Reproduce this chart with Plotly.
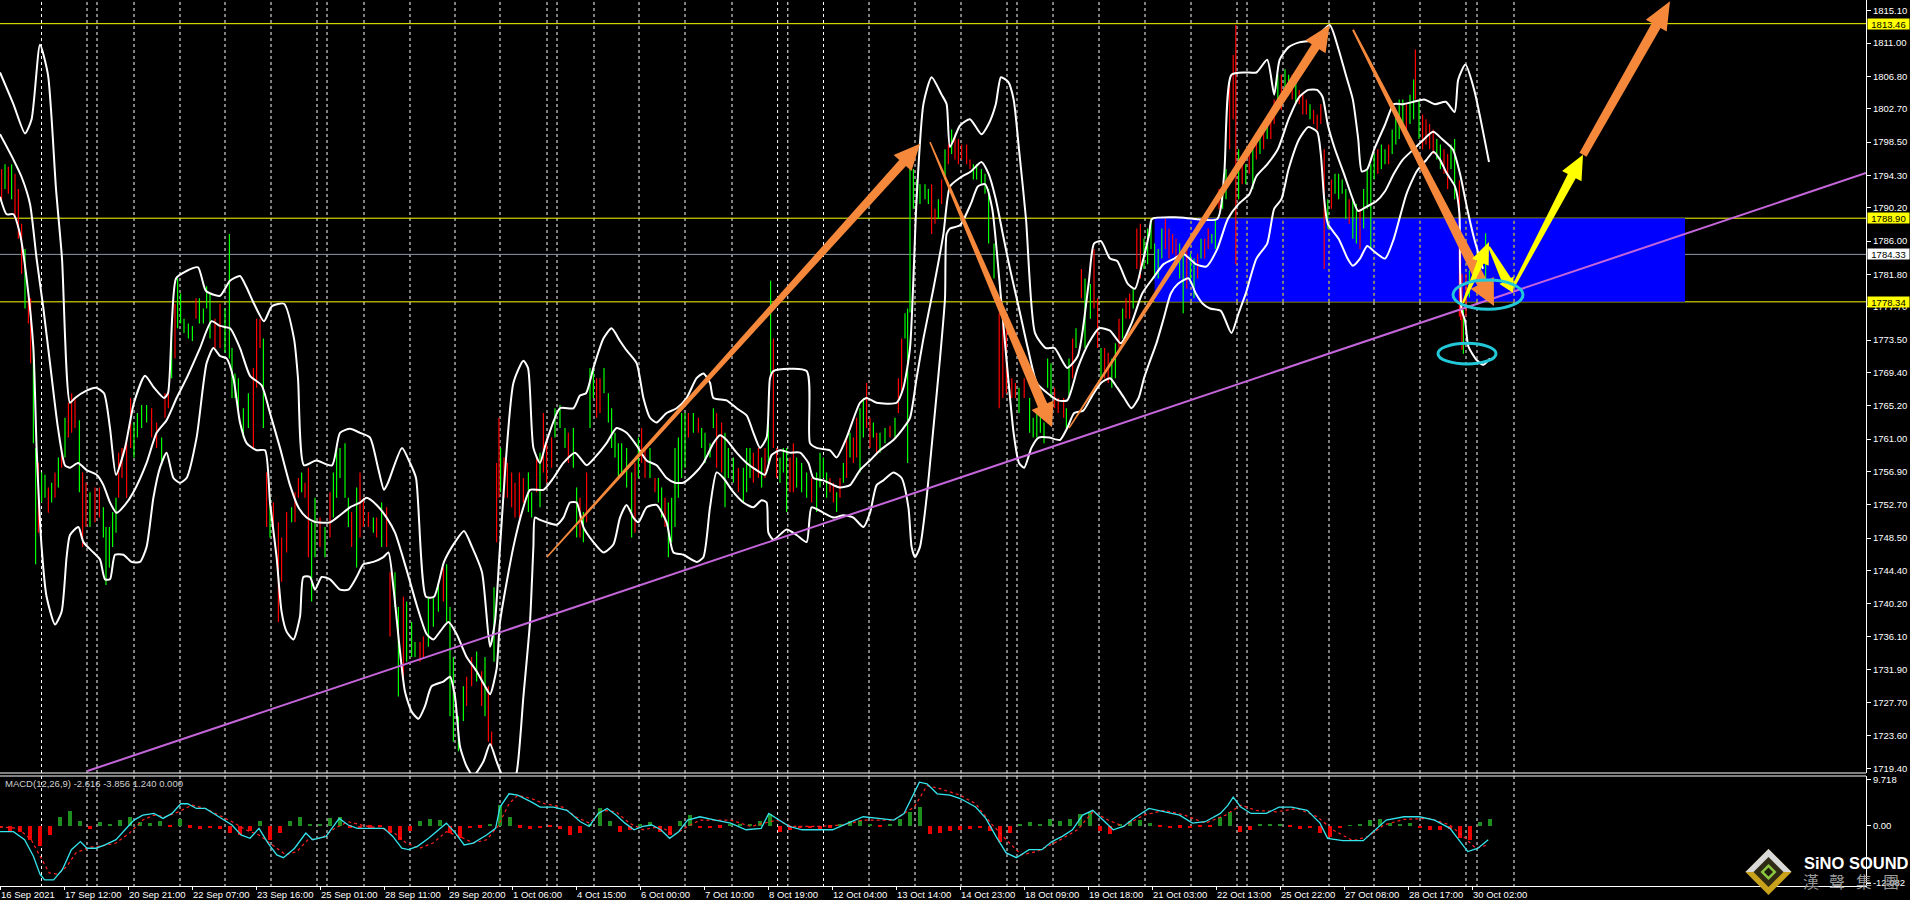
import math
import plotly.graph_objects as go

# ---------------- DATA ----------------
time_tick_bar = [0, 32, 64, 96, 128, 160, 192, 224, 256, 288, 320, 352, 384, 416,
                 448, 480, 512, 544, 576, 608, 640, 672, 704, 736]
time_tick_text = ["16 Sep 2021", "17 Sep 12:00", "20 Sep 21:00", "22 Sep 07:00", "23 Sep 16:00",
                  "25 Sep 01:00", "28 Sep 11:00", "29 Sep 20:00", "1 Oct 06:00", "4 Oct 15:00",
                  "6 Oct 00:00", "7 Oct 10:00", "8 Oct 19:00", "12 Oct 04:00", "13 Oct 14:00",
                  "14 Oct 23:00", "18 Oct 09:00", "19 Oct 18:00", "21 Oct 03:00", "22 Oct 13:00",
                  "25 Oct 22:00", "27 Oct 08:00", "28 Oct 17:00", "30 Oct 02:00"]

price_ticks = [1815.10, 1811.00, 1806.80, 1802.70, 1798.50, 1794.30, 1790.20, 1786.00,
               1781.80, 1777.70, 1773.50, 1769.40, 1765.20, 1761.00, 1756.90, 1752.70,
               1748.50, 1744.40, 1740.20, 1736.10, 1731.90, 1727.70, 1723.60, 1719.40]

macd_ticks = [9.718, 0.0, -12.082]
macd_tick_text = ["9.718", "0.00", "-12.082"]

separator_bar = [20.75, 43.5, 48.5, 67, 90, 112.5, 135.5, 158.5, 163.5, 182, 205, 227.5, 250,
                 273.5, 278.5, 297, 319.5, 342.5, 366, 388.8, 393.9, 411.75, 434.5, 457.5,
                 480.5, 503.5, 508.5, 526.5, 549.5, 572.5, 595.5, 618.5, 623.5, 641.5, 664.5,
                 687, 710, 733, 738.5, 757]

level_yellow = [1813.46, 1788.90, 1778.34]
level_gray = [1784.33]

zone_bar = [577.3, 842.5]
zone_price = [1778.34, 1788.90]

trend_bar = [43.7, 933]
trend_price = [1719.1, 1794.6]

candle_bar = [
    0.8, 2.5, 4.2, 5.8, 7.5, 9.2, 10.8, 12.5, 14.2, 15.3, 16.7, 17.8, 19.2, 20.8, 22.5, 24.2,
    25.8, 27.5, 29.2, 30.8, 32.5, 34.2, 35.8, 37.5, 39.7, 41.3, 43.0, 45.0, 47.5, 49.7, 51.7,
    53.0, 54.7, 56.3, 58.0, 59.3, 61.0, 63.3, 65.3, 67.0, 68.7, 70.8, 73.3, 75.8, 78.3, 80.8,
    82.5, 84.2, 85.8, 87.5, 88.8, 90.3, 92.0, 94.2, 96.2, 98.0, 99.7, 101.7, 103.3, 105.0,
    107.5, 110.0, 112.5, 114.7, 116.0, 117.5, 119.2, 121.7, 124.2, 126.7, 128.3, 130.0, 131.7,
    133.3, 135.0, 136.7, 139.2, 140.8, 143.3, 145.8, 147.5, 149.2, 150.8, 152.5, 154.2, 155.8,
    157.5, 160.0, 162.5, 165.0, 166.7, 168.3, 170.0, 172.5, 174.2, 175.8, 178.3, 180.0, 181.7,
    184.2, 186.7, 188.3, 190.8, 193.3, 195.0, 197.5, 199.2, 201.7, 203.3, 205.8, 207.5, 210.0,
    211.7, 214.2, 216.7, 219.2, 221.7, 223.3, 225.0, 226.7, 229.2, 231.7, 233.3, 235.8, 238.3,
    240.8, 242.5, 244.2, 245.8, 247.0, 248.3, 249.5,
    250.3, 252.0, 253.7, 255.8, 257.5, 259.7, 261.7, 264.2, 265.8, 268.3, 270.0, 271.7, 273.3,
    275.8, 277.5, 280.0, 282.5, 284.2, 286.7, 288.3, 290.0, 291.7, 293.3, 295.0, 296.7, 298.3,
    300.0, 302.0, 304.2, 305.8, 307.5, 309.2, 310.8, 313.3, 315.8, 317.5, 319.2, 320.8, 322.5,
    325.0, 327.5, 329.2, 330.8, 332.5, 334.2, 335.8, 337.5, 339.2, 340.8, 342.5, 344.2, 346.7,
    349.2, 350.8, 352.5, 355.0, 356.7, 358.3, 360.8, 362.5, 364.2, 366.7, 369.2, 371.7, 373.3,
    375.0, 376.7, 379.2, 380.8, 382.5, 384.2, 385.3, 386.7, 388.3, 390.0, 391.7, 393.3, 395.0,
    396.7, 398.3, 400.8, 403.3, 405.8, 408.3, 410.0, 411.7, 413.3, 415.0, 416.7, 418.3, 420.0,
    421.7, 423.3, 425.0, 426.7, 428.3, 430.0, 431.7, 433.3, 435.0, 436.7, 438.3, 440.0, 442.5,
    445.0, 447.5, 449.2, 450.8, 452.5, 453.8, 455.0, 456.7, 458.3, 460.0, 462.5, 464.2, 465.8,
    467.5, 469.2, 470.8, 472.5, 474.2, 475.8, 477.5, 479.2, 480.8, 483.3, 485.0, 486.7, 488.3,
    490.7, 492.5, 494.3, 497.0, 499.6, 501.4, 503.2, 505.9, 507.7, 509.5, 512.1, 514.8, 516.6,
    518.4, 520.2, 522.0, 523.8, 525.5, 527.3, 529.1, 531.8, 533.2, 534.5, 536.3, 538.0, 540.7,
    542.5, 545.2, 547.0, 548.8, 550.5, 552.3, 554.1, 555.9, 557.7, 559.5, 561.3, 563.0, 564.8,
    566.6, 568.4, 570.2, 572.0, 573.8, 575.5, 577.3, 579.1, 580.9, 582.7, 584.5, 586.3, 588.0,
    589.8, 591.6, 593.4, 595.2, 597.0, 598.8, 600.5, 602.3, 604.1, 605.9, 607.7, 609.5, 611.3,
    613.0, 614.8, 616.6, 617.9, 619.3, 621.1, 622.9, 624.6, 626.4, 628.2, 630.0, 631.8, 633.6,
    635.4, 637.1, 638.9, 640.7, 642.5, 644.3, 646.1, 647.9, 649.6, 651.4, 653.2, 655.0, 656.8,
    658.6, 660.4, 662.1, 663.9, 665.7, 667.5, 669.3, 671.1, 672.9, 674.6, 676.4, 678.2, 680.0,
    681.8, 683.6, 685.4, 687.1, 688.9, 690.7, 692.5, 694.3, 696.1, 697.9, 699.6, 701.4, 703.2,
    705.0, 706.8, 707.7, 709.5, 711.3, 713.0, 714.8, 716.6, 718.4, 720.2, 722.0, 723.8, 725.5,
    727.3, 729.7, 730.3, 731.0, 731.7, 733.0, 734.7, 742.8]
candle_high = [
    1795.1, 1795.7, 1795.4, 1795.7, 1794.5, 1792.6, 1788.2, 1785.0, 1780.0, 1778.8, 1773.1,
    1759.9, 1758.0, 1756.8, 1756.5, 1754.9, 1755.5, 1756.8, 1758.7, 1759.9, 1763.7, 1765.6,
    1766.8, 1766.2, 1763.4, 1756.8, 1755.5, 1754.3, 1754.9, 1754.9, 1752.4, 1749.9, 1749.9,
    1751.8, 1753.6, 1759.3, 1759.9, 1761.2, 1766.2, 1763.1, 1764.3, 1765.3, 1765.3, 1764.9,
    1763.1, 1761.2, 1766.8, 1766.8, 1776.2, 1778.1, 1781.3, 1779.4, 1776.2, 1775.6, 1775.3,
    1778.8, 1778.8, 1777.5, 1780.3, 1779.4, 1776.2, 1778.1, 1777.5, 1786.9, 1772.5, 1769.3,
    1768.7, 1764.9, 1766.8, 1770.0, 1776.2, 1776.2, 1773.7, 1756.8, 1753.6, 1753.0, 1750.5,
    1748.6, 1751.8, 1752.4, 1754.3, 1756.1, 1756.8, 1755.5, 1757.4, 1750.5, 1753.6, 1751.1,
    1749.9, 1754.3, 1756.8, 1759.9, 1759.9, 1760.5, 1753.6, 1751.8, 1754.9, 1756.8, 1753.6,
    1751.8, 1751.1, 1751.1, 1753.0, 1752.4, 1744.2, 1744.2, 1739.8, 1741.1, 1740.5, 1737.9,
    1735.4, 1735.4, 1736.1, 1741.1, 1741.1, 1743.0, 1744.8, 1745.2, 1739.8, 1733.5, 1726.0,
    1729.8, 1731.0, 1733.5, 1734.2, 1731.7, 1733.5, 1729.8, 1724.1, 1742.3, 1758.0, 1763.7,
    1759.9, 1758.7, 1758.0, 1756.8, 1755.5, 1756.8, 1756.1, 1756.8, 1754.3, 1758.7, 1759.3,
    1764.3, 1761.2, 1761.2, 1764.9, 1765.3, 1762.4, 1761.8, 1762.4, 1754.9, 1753.6, 1751.8,
    1756.8, 1770.0, 1770.0, 1768.7, 1768.7, 1770.0, 1766.8, 1764.9, 1761.8, 1760.5, 1760.5,
    1759.9, 1756.8, 1758.0, 1761.2, 1762.4, 1759.9, 1759.9, 1756.1, 1756.1, 1754.9, 1753.6,
    1753.0, 1753.6, 1759.9, 1761.2, 1764.3, 1764.3, 1764.3, 1764.3, 1763.7, 1762.4, 1761.8,
    1760.5, 1764.9, 1764.3, 1763.1, 1761.8, 1759.9, 1758.7, 1757.4, 1757.4, 1759.9, 1759.9,
    1759.3, 1759.9, 1758.7, 1759.9, 1763.1, 1781.0, 1773.7, 1759.9, 1758.7, 1759.9, 1759.9,
    1758.7, 1760.5, 1758.7, 1758.0, 1756.8, 1756.1, 1756.8, 1759.3, 1758.7, 1756.8, 1756.1,
    1755.5, 1754.3, 1756.1, 1758.0, 1761.2, 1761.8, 1761.2, 1763.7, 1764.9, 1766.2, 1768.1,
    1763.7, 1763.1, 1761.8, 1761.8, 1762.4, 1762.7, 1763.7, 1768.7, 1773.7, 1776.9, 1777.5,
    1795.1, 1795.1, 1793.8, 1793.2, 1793.2, 1792.6, 1793.2, 1790.1, 1791.3, 1793.8, 1797.6,
    1798.2, 1800.1, 1799.5, 1798.9, 1798.2, 1798.2, 1796.3, 1795.7, 1795.7,
    1795.1, 1794.5, 1792.6, 1785.7, 1776.9, 1775.6, 1775.0, 1768.7, 1768.1, 1767.5, 1768.7,
    1766.2, 1763.7, 1764.9, 1764.9, 1763.1, 1771.2, 1770.6, 1767.5, 1766.2, 1766.2, 1764.9,
    1771.2, 1773.7, 1775.0, 1782.5, 1781.3, 1780.6, 1785.0, 1778.8, 1772.5, 1772.5, 1771.9,
    1771.2, 1773.1, 1776.2, 1777.5, 1778.8, 1779.4, 1780.0, 1787.6, 1788.2, 1786.3, 1787.6,
    1788.8, 1785.7, 1785.0, 1787.6, 1788.8, 1787.6, 1786.9, 1786.3, 1785.7, 1785.0, 1785.0,
    1784.4, 1783.8, 1784.4, 1786.3, 1786.3, 1787.6, 1786.9, 1788.8, 1792.6, 1792.0, 1795.1,
    1805.8, 1809.5, 1813.3, 1797.6, 1795.7, 1795.7, 1797.0, 1797.6, 1798.9, 1799.5, 1800.1,
    1801.4, 1802.6, 1803.9, 1807.0, 1807.0, 1807.7, 1807.0, 1807.0, 1806.4, 1805.1, 1804.5,
    1803.9, 1803.3, 1802.6, 1802.0, 1803.3, 1797.6, 1791.3, 1793.8, 1794.5, 1794.5, 1793.8,
    1792.6, 1791.3, 1791.3, 1790.7, 1790.1, 1792.6, 1795.1, 1795.7, 1797.0, 1797.6, 1798.2,
    1797.6, 1798.2, 1800.1, 1802.0, 1803.9, 1803.9, 1803.3, 1804.5, 1806.4, 1810.2, 1803.9,
    1802.0, 1801.4, 1800.8, 1800.1, 1798.9, 1798.2, 1797.6, 1797.0, 1798.2, 1798.9, 1793.7,
    1784.9, 1781.9, 1777.3, 1781.9, 1782.3, 1787.0]
candle_low = [
    1791.3, 1792.6, 1792.0, 1791.3, 1788.8, 1786.3, 1781.9, 1777.5, 1775.6, 1770.6, 1760.5,
    1745.2, 1749.2, 1753.0, 1753.6, 1751.7, 1753.0, 1753.6, 1754.9, 1757.4, 1758.7, 1761.2,
    1761.8, 1762.4, 1754.3, 1747.4, 1749.9, 1749.9, 1750.5, 1751.1, 1748.6, 1742.6, 1744.8,
    1747.4, 1749.2, 1753.6, 1756.1, 1753.6, 1759.9, 1758.7, 1761.2, 1762.4, 1763.1, 1761.2,
    1759.9, 1757.7, 1763.7, 1764.9, 1768.7, 1771.2, 1775.0, 1775.6, 1774.4, 1773.7, 1773.4,
    1776.2, 1775.6, 1775.6, 1777.5, 1773.7, 1772.5, 1772.5, 1771.9, 1771.2, 1766.2, 1766.2,
    1764.9, 1761.2, 1762.4, 1759.9, 1767.5, 1772.5, 1762.4, 1749.9, 1748.6, 1748.6, 1737.9,
    1743.0, 1746.7, 1750.5, 1750.5, 1753.6, 1754.3, 1753.6, 1746.1, 1740.5, 1746.1, 1747.4,
    1746.1, 1748.6, 1751.1, 1753.6, 1756.1, 1753.6, 1749.9, 1747.4, 1744.8, 1748.6, 1749.9,
    1749.9, 1749.2, 1748.6, 1747.4, 1747.4, 1736.1, 1739.8, 1728.5, 1731.0, 1732.9, 1733.5,
    1733.5, 1732.9, 1733.5, 1734.8, 1737.3, 1739.2, 1740.5, 1737.9, 1726.0, 1722.8, 1721.6,
    1725.4, 1727.3, 1729.8, 1730.4, 1727.3, 1726.0, 1722.8, 1722.2, 1732.9, 1748.0, 1753.6,
    1754.3, 1753.6, 1753.6, 1752.4, 1751.1, 1751.1, 1753.0, 1751.8, 1751.1, 1754.3, 1752.4,
    1756.8, 1755.5, 1757.4, 1761.2, 1762.4, 1759.9, 1758.0, 1757.4, 1748.6, 1748.6, 1748.0,
    1750.5, 1762.4, 1766.2, 1763.7, 1764.3, 1766.8, 1763.1, 1759.9, 1758.7, 1756.1, 1756.8,
    1754.9, 1748.6, 1749.2, 1756.1, 1758.0, 1756.1, 1756.1, 1754.3, 1753.0, 1751.1, 1749.9,
    1746.1, 1748.0, 1749.9, 1753.6, 1756.1, 1757.4, 1761.2, 1761.8, 1761.8, 1759.9, 1758.0,
    1758.7, 1762.4, 1757.4, 1756.8, 1752.4, 1756.1, 1755.5, 1754.3, 1753.0, 1754.3, 1756.1,
    1755.5, 1756.1, 1754.9, 1756.1, 1758.0, 1769.3, 1759.9, 1756.1, 1755.5, 1756.8, 1751.8,
    1754.3, 1754.3, 1754.9, 1754.3, 1753.6, 1753.0, 1751.8, 1754.9, 1756.1, 1753.6, 1754.3,
    1753.0, 1751.8, 1753.6, 1755.5, 1756.1, 1758.7, 1758.0, 1758.7, 1756.8, 1761.2, 1762.4,
    1759.9, 1761.2, 1759.3, 1759.3, 1760.5, 1761.2, 1761.2, 1764.3, 1766.8, 1773.7, 1758.0,
    1777.0, 1790.1, 1790.7, 1790.7, 1791.3, 1790.7, 1786.9, 1788.2, 1788.8, 1790.7, 1793.8,
    1795.7, 1797.0, 1796.3, 1795.7, 1796.3, 1795.7, 1795.1, 1793.8, 1793.8,
    1793.2, 1792.0, 1785.7, 1781.3, 1764.9, 1766.2, 1766.8, 1766.2, 1766.2, 1764.3, 1766.2,
    1761.8, 1761.2, 1761.2, 1761.8, 1760.5, 1767.5, 1766.2, 1764.9, 1764.3, 1763.7, 1762.4,
    1766.2, 1768.7, 1772.5, 1778.8, 1772.5, 1776.2, 1777.5, 1772.5, 1768.7, 1768.7, 1768.1,
    1767.5, 1768.7, 1772.5, 1773.7, 1776.2, 1776.2, 1777.5, 1782.5, 1781.3, 1782.5, 1783.1,
    1785.0, 1781.3, 1781.3, 1783.8, 1785.0, 1783.8, 1784.4, 1783.8, 1781.3, 1776.9, 1780.0,
    1780.6, 1778.8, 1781.3, 1783.8, 1783.8, 1785.0, 1785.7, 1785.0, 1790.1, 1790.1, 1791.3,
    1797.6, 1801.4, 1783.1, 1791.3, 1793.2, 1793.2, 1794.5, 1792.6, 1796.3, 1797.0, 1797.6,
    1798.9, 1798.9, 1800.8, 1803.9, 1802.6, 1803.9, 1804.5, 1803.9, 1803.3, 1803.3, 1802.0,
    1802.0, 1801.4, 1800.8, 1800.1, 1800.8, 1782.5, 1787.6, 1790.1, 1792.0, 1791.3, 1792.0,
    1788.8, 1788.2, 1786.3, 1785.7, 1785.0, 1787.6, 1790.1, 1785.0, 1793.8, 1794.5, 1795.1,
    1795.7, 1795.7, 1797.0, 1798.2, 1798.9, 1800.1, 1800.1, 1800.8, 1801.4, 1803.9, 1798.9,
    1797.6, 1798.2, 1797.6, 1797.0, 1796.3, 1795.1, 1794.5, 1792.6, 1795.1, 1791.3, 1776.5,
    1776.0, 1772.3, 1771.8, 1776.5, 1778.9, 1780.7]
candle_dir = ("dudud" "ddudd" "uuduu" "dudud" "udddu" "ddudd" "uuuuu" "ddddu" "uuudd" "uddud"
              "uuuuu" "duuuu" "dduuu" "uuuud" "ddudu" "ddddu" "ddudd" "uudud" "uuuuu" "dudddu"
              "dudduudu" "uudduuudu" "uuuuddudu" "ddudduddd" "ddduududd" "du"
              "uuduudud" "uuddu" "uuuuuuu" "dudduduu" "duuuuuudu" "duuuudd" "uuudu" "uuddud"
              "uudduuudd" "uuudu" "uuuddu" "dududdu" "udduduu" "dudduuuu" "uuuuddudu" "duddddd"
              "uuuuuudd" "ddduduuu"
              "uuuuddduu" "dudu" "uddud" "duudu" "dduddu" "uuuuu" "ddddu" "uduu" "duddu" "uduu"
              "dddudu" "dudu" "dudduduu" "dudddu" "ddddud" "uuuuduud" "uuuuduuduu" "uuduud" "udd"
              "dduudd" "uudddu" "duuudu" "uudu" "duuuudd" "uduuudu" "dudd" "uuudduud" "dd"
              "uuuddd" "d")

upper_bar = [0, 6.7, 12.5, 15.8, 20, 24, 28, 31, 35, 37.5, 43, 48, 52, 55, 58, 62.5, 67, 72.5, 77,
             82, 84, 88, 93, 99, 103, 110, 115, 120, 123, 127, 132, 136, 142, 147, 149, 152, 158,
             166, 170, 175, 180, 185, 189, 192, 194, 201, 205, 208, 213, 217, 222, 227.5, 232,
             236, 241, 245, 247.5, 250, 256.7, 261.7, 264, 266.7, 270, 273, 280, 286.7, 290,
             293, 296.7, 301.7, 305.8, 310, 313.3, 318.3, 321.7, 325, 328.3, 333.3, 338.3,
             343.3, 348.3, 351.7, 355, 356.7, 363.3, 368.3, 373.3, 376.7, 380, 383.3, 385,
             386.7, 403.3, 405, 408.3, 415, 418.3, 423.3, 430, 433.3, 438.3, 448.3, 451.7, 455,
             458.3, 461.7, 465.8, 470.8, 473.3, 475, 480, 485, 490.7, 494.3, 497.9, 500.5,
             504.1, 506.8, 509.5, 513, 517.5, 522.9, 527.3, 533.6, 538.9, 544.3, 547, 550.5,
             555, 558.6, 563.9, 567.5, 571, 574.6, 576, 590, 608.6, 612.1, 615.7, 622.9, 628.2,
             633.6, 637.1, 639.8, 644.3, 649.6, 656.8, 664.8, 669.3, 672.9, 676.4, 679.1,
             680.9, 683.6, 687.1, 692.5, 696.9, 701.4, 706.8, 712.1, 717.5, 722.9, 727.3,
             729.1, 732.7, 737.1, 744.5]
upper_val = [1807.3, 1803.3, 1799.6, 1801.4, 1810.8, 1807.0, 1792.6, 1783.8, 1765.6, 1766.2,
             1767.1, 1767.5, 1766.8, 1762.4, 1756.5, 1759.9, 1765.6, 1769.0, 1767.5, 1766.2,
             1766.8, 1781.3, 1782.2, 1782.7, 1779.7, 1779.1, 1781.0, 1781.6, 1780.3, 1778.1,
             1775.9, 1777.8, 1778.1, 1773.7, 1768.7, 1757.7, 1758.3, 1757.7, 1761.8, 1762.3,
             1761.8, 1761.2, 1757.4, 1754.6, 1755.5, 1759.9, 1758.0, 1756.1, 1741.1, 1741.1,
             1745.5, 1748.0, 1749.4, 1747.4, 1744.2, 1734.8, 1738.0, 1747.4, 1768.1, 1770.9,
             1770.0, 1759.9, 1758.0, 1760.5, 1764.9, 1764.9, 1766.5, 1766.8, 1770.0, 1773.7,
             1775.0, 1773.4, 1772.2, 1770.6, 1766.2, 1763.7, 1763.1, 1764.3, 1764.9, 1766.2,
             1768.7, 1769.3, 1768.1, 1766.2, 1765.9, 1764.9, 1764.0, 1761.8, 1759.9, 1761.2,
             1768.7, 1769.6, 1769.6, 1760.5, 1759.9, 1759.6, 1758.7, 1761.2, 1765.6, 1766.2,
             1765.6, 1765.6, 1767.5, 1772.5, 1791.3, 1803.3, 1806.7, 1804.5, 1803.3, 1797.9,
             1800.6, 1801.4, 1799.5, 1800.8, 1803.3, 1806.7, 1806.1, 1803.9, 1797.6, 1788.8,
             1774.4, 1772.5, 1772.5, 1770.0, 1771.5, 1780.6, 1785.7, 1786.0, 1783.8, 1783.5,
             1780.6, 1780.0, 1783.1, 1786.9, 1788.8, 1789.0, 1788.8, 1794.5, 1807.0, 1807.3,
             1807.3, 1808.9, 1804.5, 1808.9, 1810.5, 1811.1, 1811.4, 1813.3, 1810.2, 1807.0,
             1803.9, 1798.9, 1794.8, 1795.1, 1797.6, 1800.7, 1803.3, 1803.3, 1803.6, 1803.9,
             1803.3, 1803.6, 1802.3, 1806.4, 1808.3, 1805.1, 1796.0]

mid_bar = [0, 6.7, 10.8, 15, 18.3, 21.7, 25, 29, 32.5, 35, 39, 43.3, 48.3, 51.7, 55, 58.3, 62.5,
           66.7, 73.3, 78.3, 83.3, 88.3, 93.3, 100, 105.8, 110, 115, 120, 125, 130.8, 135, 140,
           145, 149.2, 153.3, 158.3, 165, 170, 175, 180, 183.3, 188.3, 193.3, 197.5, 203.3,
           208.3, 213.3, 216.7, 220, 224.2, 228.3, 233.3, 238.3, 242.5, 245, 248.3, 250, 256.7,
           261.7, 265, 271.7, 276.7, 281.7, 287.5, 293.3, 297.5, 303.3, 308.3, 313.3, 318.3,
           323.3, 328.3, 333.3, 337.5, 341.7, 346.7, 351.7, 356.7, 360, 363.3, 368.3, 373.3,
           378.3, 382.5, 385.8, 390, 395, 400, 404.2, 406.7, 411.7, 416.7, 420, 425, 430, 435,
           440, 446.7, 451.7, 455, 458.3, 461.7, 466.7, 471.7, 475, 480, 485.4, 490.7, 494.3,
           497.9, 501.4, 505, 509.5, 513.9, 518.4, 523.8, 529.1, 533.6, 538.9, 544.3, 549.6,
           555, 560.4, 565.7, 571.1, 576.4, 581.8, 587.1, 591.6, 597.9, 603.2, 608.6, 613.9,
           619.3, 624.6, 628.2, 633.6, 638.9, 644.3, 649.6, 654.1, 658.6, 661.3, 663.9, 667.5,
           672, 676.4, 679.1, 683.6, 688, 692.5, 696.9, 701.4, 706.8, 712.1, 716.6, 721, 726.4,
           730, 733.6, 737.1, 741.5]
mid_val = [1799.5, 1796.3, 1794.1, 1790.7, 1783.8, 1777.5, 1770.6, 1762.4, 1757.7, 1757.4,
           1758.0, 1757.1, 1756.5, 1755.2, 1753.0, 1751.7, 1752.7, 1754.3, 1758.0, 1761.8,
           1763.4, 1766.2, 1768.7, 1772.5, 1775.9, 1775.3, 1775.0, 1772.5, 1769.0, 1767.8,
           1764.3, 1759.9, 1755.2, 1752.4, 1751.1, 1750.5, 1750.5, 1751.4, 1752.4, 1753.0,
           1753.6, 1752.7, 1751.1, 1749.2, 1744.5, 1740.1, 1736.4, 1735.7, 1736.7, 1737.9,
           1736.4, 1733.5, 1731.7, 1729.8, 1728.8, 1732.0, 1737.9, 1747.4, 1752.4, 1754.6,
           1754.6, 1756.1, 1758.0, 1759.3, 1757.7, 1758.7, 1760.5, 1762.4, 1761.8, 1760.2,
           1758.3, 1757.7, 1756.1, 1755.5, 1755.5, 1756.5, 1758.0, 1760.5, 1761.5, 1760.9,
           1759.3, 1758.0, 1757.1, 1756.5, 1759.0, 1759.6, 1759.3, 1759.3, 1758.0, 1756.1,
           1755.8, 1755.2, 1754.9, 1755.2, 1757.1, 1758.3, 1759.6, 1760.9, 1762.4, 1763.7,
           1768.7, 1773.7, 1780.0, 1786.9, 1792.9, 1794.0, 1794.8, 1796.0, 1794.5, 1791.3,
           1786.9, 1782.5, 1777.5, 1772.5, 1768.1, 1766.8, 1765.9, 1765.9, 1770.0, 1773.1,
           1775.0, 1774.7, 1773.1, 1775.6, 1779.4, 1781.3, 1783.1, 1783.8, 1784.4, 1783.1,
           1782.8, 1785.0, 1788.8, 1790.7, 1791.9, 1794.2, 1795.7, 1797.6, 1801.4, 1804.2,
           1805.1, 1805.1, 1804.2, 1800.7, 1797.6, 1794.5, 1791.3, 1789.8, 1790.4, 1791.0,
           1792.3, 1794.5, 1796.3, 1797.6, 1798.9, 1799.8, 1798.9, 1797.6, 1794.5, 1790.1,
           1786.3, 1782.5]

lower_bar = [0, 3.3, 6.7, 10, 13.3, 16.7, 18.3, 20.8, 23.3, 27.5, 30.8, 33.3, 35, 39.2, 41.7,
             46.7, 50, 52.5, 55, 57.5, 61.7, 65.8, 70, 73.3, 76.7, 80, 83.3, 86.7, 90, 93.3,
             98.3, 103.3, 106.7, 110, 113.3, 116.7, 120, 123.3, 128.3, 132.5, 135, 138.3, 140.8,
             143.3, 146.7, 150, 151.7, 155, 157.5, 160.8, 165, 170, 174.2, 178.3, 181.7, 186.7,
             191.7, 194.2, 196.7, 200, 202.5, 205.8, 209.2, 212.5, 215.8, 221.7, 225, 227.5,
             230, 233.3, 236.7, 241.7, 245, 248.3, 251, 254, 258.3, 261.7, 265, 266.7, 267.5,
             270, 273.3, 278.3, 281.7, 285, 288.3, 291.7, 296.7, 301.7, 306.7, 310, 313.3,
             316.7, 319.2, 323.3, 328.3, 333.3, 336.7, 341.7, 348.3, 351.7, 355, 358.3, 361.7,
             366.7, 371.7, 376.7, 380.8, 383.3, 384.2, 386.7, 393.3, 398.3, 403.3, 405.8,
             411.7, 416.7, 421.7, 426.7, 431.7, 435, 438.3, 441.7, 446.7, 450.8, 454.2, 455.8,
             457.5, 460, 463.3, 466.7, 470, 472.5, 473.3, 475, 480, 485.4, 488.9, 492.5, 496.1,
             499.6, 503.2, 506.8, 509.5, 512.1, 515.7, 519.3, 524.6, 530, 533.6, 537.1, 541.6,
             546.1, 550.5, 555, 558.6, 562.1, 565.7, 569.3, 572, 574.6, 578.2, 581.8, 585.4,
             588.9, 594.3, 597.9, 601.4, 605, 610.4, 615.7, 619.3, 622.9, 628.2, 633.6, 637.1,
             640.7, 644.3, 649.6, 654.1, 658.6, 660.4, 662.1, 663.9, 669.3, 673.8, 676.4, 680,
             683.6, 687.1, 692.5, 696.9, 700, 703.3, 708.3, 713.3, 716.7, 720, 723.3, 727.5,
             729.7, 730, 730.8, 732.5, 734.2, 738.3, 741.7, 745]
lower_val = [1791.6, 1789.4, 1789.4, 1786.9, 1781.3, 1772.5, 1759.9, 1747.4, 1741.1, 1737.6,
             1739.2, 1746.1, 1748.9, 1749.9, 1748.0, 1746.7, 1745.8, 1743.3, 1743.3, 1746.4,
             1746.4, 1745.5, 1745.5, 1747.4, 1753.6, 1757.4, 1759.3, 1756.1, 1755.5, 1756.1,
             1761.2, 1770.6, 1772.5, 1771.5, 1771.2, 1768.7, 1763.1, 1760.5, 1759.6, 1759.6,
             1753.0, 1746.1, 1739.2, 1736.7, 1735.7, 1738.6, 1743.6, 1743.6, 1742.0, 1743.6,
             1743.3, 1742.0, 1742.0, 1743.6, 1745.2, 1745.5, 1746.1, 1746.7, 1742.3, 1734.2,
             1729.1, 1726.6, 1725.7, 1727.3, 1729.8, 1730.4, 1731.0, 1728.5, 1722.2, 1719.7,
             1718.5, 1720.3, 1722.5, 1720.3, 1718.5, 1716.0, 1718.9, 1728.5, 1737.9, 1747.4,
             1751.1, 1750.8, 1750.5, 1750.2, 1751.1, 1753.0, 1753.0, 1749.9, 1748.0, 1746.7,
             1747.7, 1751.1, 1752.7, 1751.1, 1750.5, 1752.4, 1752.7, 1750.5, 1746.7, 1746.4,
             1745.5, 1746.1, 1752.4, 1756.8, 1756.1, 1754.3, 1753.0, 1752.4, 1753.3, 1753.0,
             1749.2, 1748.3, 1749.6, 1748.9, 1748.0, 1752.4, 1751.7, 1751.1, 1751.4, 1751.1,
             1749.9, 1751.7, 1755.2, 1755.8, 1756.8, 1756.1, 1752.4, 1747.4, 1746.1, 1747.4,
             1753.6, 1762.4, 1771.2, 1778.8, 1786.9, 1787.6, 1788.0, 1790.7, 1792.9, 1793.2,
             1790.1, 1781.3, 1771.2, 1761.8, 1758.0, 1757.4, 1759.9, 1761.2, 1761.2, 1760.9,
             1762.4, 1764.3, 1764.6, 1766.5, 1768.1, 1768.7, 1767.5, 1766.2, 1764.9, 1766.2,
             1768.7, 1770.6, 1773.1, 1776.2, 1779.4, 1780.6, 1781.3, 1779.4, 1778.1, 1777.5,
             1777.2, 1774.4, 1776.9, 1779.4, 1783.8, 1785.7, 1790.1, 1791.3, 1795.1, 1798.9,
             1800.4, 1799.8, 1797.0, 1791.3, 1788.2, 1786.3, 1783.8, 1782.9, 1783.8, 1785.4,
             1784.7, 1783.8, 1786.3, 1789.1, 1792.0, 1794.8, 1796.3, 1797.3, 1796.3, 1794.6,
             1792.9, 1789.5, 1782.8, 1777.3, 1776.0, 1772.7, 1771.0, 1770.4, 1771.2]

macd_bar = [0, 6.7, 12.3, 16.7, 20, 22.3, 26.8, 31.2, 35.7, 40.2, 43.5, 48, 52.5, 58, 62.5, 67,
            71.4, 77, 81.5, 86, 90.4, 93.8, 98.2, 102.7, 109.4, 116, 120.5, 125, 129.5, 134,
            138.4, 141.7, 147.3, 152.9, 156.3, 163, 169.6, 174.1, 178.6, 185.3, 192, 196.4,
            200.9, 204.2, 208.7, 214.3, 221, 223.2, 227.7, 232.1, 236.6, 243.3, 247.8, 250,
            254.5, 258.9, 265.6, 270.1, 276.8, 283.5, 290.2, 294.6, 299.1, 303.6, 308, 312.5,
            317, 321.4, 325.9, 330.4, 334.8, 339.3, 343.8, 350, 357.7, 365.3, 373, 380.6,
            384.4, 388.3, 394.6, 401, 408.7, 416.3, 424, 431.6, 439.3, 446.9, 452, 455.9,
            459.7, 463.5, 468.6, 475, 480.1, 487.8, 492.9, 498, 503.1, 508.2, 514.5, 520.9,
            526, 531.1, 536.2, 541.3, 546.4, 551.5, 556.6, 561.7, 566.8, 574.5, 582.1, 589.8,
            596.2, 602.6, 610.2, 614, 616.6, 620.4, 625.5, 633.2, 639.5, 645.9, 653.6, 660,
            663.8, 671.4, 681.6, 686.7, 693.1, 702, 709.7, 717.3, 725, 730.1, 733.9, 739, 744.1]
macd_val = [-1.2, -1.2, -2.9, -6.4, -10.2, -11.4, -11.4, -9.2, -5.0, -3.3, -4.7, -4.7, -4.0,
            -2.9, -0.8, 1.25, 2.3, 2.65, 1.6, 2.65, 4.7, 4.7, 3.7, 3.7, 1.95, 0.2, -1.9, -2.6,
            -0.5, -3.6, -6.1, -6.7, -4.7, -1.5, -2.9, -2.2, 1.6, 0.2, -0.5, -0.5, -0.5, -2.2,
            -4.7, -5.0, -4.3, -2.6, -0.1, 0.6, -1.5, -4.0, -3.6, -1.9, -0.5, 4.0, 6.8, 6.5,
            5.1, 4.0, 4.0, 3.3, 0.9, -0.1, 2.65, 3.7, 2.3, 0.6, -0.8, -0.1, 0.2, -0.8, -2.6,
            -1.2, 1.25, 1.95, 1.25, 0.6, -0.8, -0.5, 2.65, 1.6, -0.1, -0.8, -0.8, -0.8, 0.6,
            1.95, 1.6, 1.25, 2.65, 6.1, 9.25, 8.9, 6.8, 6.5, 5.8, 4.0, 1.6, -2.2, -5.7, -6.7,
            -5.0, -5.0, -3.3, -2.2, -0.8, 2.3, 3.3, 1.25, -0.8, -0.1, 1.6, 3.7, 3.0, 2.3, 0.6,
            0.9, 2.65, 4.4, 6.1, 4.0, 2.65, 2.65, 4.0, 4.0, 3.3, 0.6, -2.6, -3.1, -3.1, -1.2,
            1.25, 1.95, 1.95, 1.25, -0.5, -3.3, -5.4, -4.7, -2.9]

signal_bar = [0, 9, 15.6, 20, 24.6, 29, 33.5, 37.9, 44.6, 51.3, 58, 64.7, 71.4, 77, 82.6, 89.3,
              96, 102.7, 109.4, 116, 122.8, 129.5, 136.2, 142.9, 148.4, 154, 160.7, 167.4,
              174.1, 180.8, 189.7, 196.4, 203.1, 209.8, 216.5, 223.2, 229.9, 236.6, 243.3,
              248.9, 254.5, 258.9, 265.6, 272.3, 281.3, 287.9, 294.6, 301.3, 308, 314.7, 321.4,
              330.4, 337, 343.8, 350, 365.3, 375.5, 388.3, 395.9, 408.7, 421.4, 431.6, 446.9,
              457.1, 463.5, 469.9, 480.1, 487.8, 495.4, 503.1, 510.7, 518.4, 528.6, 538.8,
              546.4, 554.1, 561.7, 571.9, 582.1, 592.3, 602.6, 612.8, 620.4, 628.1, 638.3,
              648.5, 658.7, 666.3, 676.5, 684.2, 691.8, 702, 714.8, 725, 732.7, 737.8, 744.1]
signal_val = [-0.2, -0.5, -2.9, -6.4, -9.9, -10.2, -8.5, -5.7, -4.5, -4.2, -3.6, -1.5, 1.25,
              2.3, 1.95, 3.0, 4.4, 3.7, 2.3, 0.9, -0.8, -1.9, -4.0, -6.1, -5.4, -2.9, -2.6,
              -0.5, 0.9, 0.2, -0.5, -1.2, -3.6, -4.7, -3.6, -1.2, -2.2, -3.6, -2.9, -0.1, 4.7,
              6.5, 5.8, 4.7, 4.0, 1.95, 0.6, 3.3, 3.0, 0.6, -0.8, -0.1, -1.9, -0.1, 1.25, 1.25,
              -0.1, 1.25, -0.1, -0.1, 0.2, 1.25, 1.25, 4.0, 8.5, 7.9, 6.5, 4.7, 0.6, -2.9,
              -6.1, -5.4, -3.3, -0.8, 3.0, 1.25, -0.1, 2.3, 3.3, 2.3, 0.6, 2.3, 4.4, 3.3, 3.0,
              3.7, 1.95, -0.8, -3.1, -2.2, 0.2, 1.4, 1.6, 0.2, -2.6, -4.7, -4.0]

hist_bar = list(range(0, 750, 5))
hist_val = [-0.5, -1.0, -1.2, -3.0, -4.2, -2.0, 2.0, 3.1, 1.0, -0.7, 0.8, 0.5, 1.2, 1.9, 0.8,
            0.6, 1.0, -0.3, 1.5, -0.4, -0.6, -0.5, -0.7, -1.4, -1.9, -1.0, 1.0, -2.9, -1.5,
            1.0, 1.9, 0.5, 0.4, 1.6, 2.0, -0.4, -0.5, -0.4, -0.3, -1.5, -2.9, -1.0, 1.0, 1.5,
            1.2, -1.5, -2.6, -0.5, -0.4, 0.3, 4.5, 2.0, -0.4, -0.7, -0.5, -0.3, -0.6, -1.9,
            -1.5, 0.5, 3.9, 1.0, -1.2, -0.8, 0.5, 0.9, -1.2, -1.9, 1.0, 2.3, -0.5, -0.5, -0.4,
            0.3, 0.4, 0.5, 1.0, 2.6, -1.2, -0.8, -0.5, -0.5, -0.6, -0.4, 0.3, 1.0, 1.2, 0.5,
            -0.3, 0.3, 1.5, 3.0, 4.0, -1.6, -1.4, -1.0, -0.8, -0.6, -0.5, -1.0, -3.3, -1.5,
            0.5, 0.8, 0.3, 1.4, 1.0, 1.5, 2.5, 2.9, -1.0, -1.6, 0.5, 1.0, 1.2, 0.6, -0.3,
            -0.5, -0.4, -0.5, -0.3, -0.2, 2.0, 2.9, -1.2, -0.8, 0.3, 0.5, 0.4, -0.3, -0.6,
            -0.5, -1.5, -2.3, -0.5, 0.2, 0.5, 1.3, 1.5, 0.6, 0.5, 0.6, -0.5, -0.9, -0.8, -0.6,
            -2.5, -3.0, 0.8, 1.4]

arrow_from_bar = [273.4, 465.0, 534.5, 676.5, 731.5, 744.5, 756.5, 791.5]
arrow_from_price = [1746.1, 1798.5, 1762.4, 1812.7, 1778.2, 1785.3, 1780.2, 1796.9]
arrow_to_bar = [460.0, 526.0, 664.8, 747.0, 744.5, 756.5, 791.5, 835.0]
arrow_to_price = [1798.3, 1762.5, 1813.3, 1777.8, 1785.9, 1779.5, 1796.9, 1816.3]

ellipse_bar = [[726.5, 761.5], [719.0, 748.0]]
ellipse_price = [[1777.4, 1781.1], [1770.5, 1773.1]]

macd_label = "MACD(12,26,9) -2.616 -3.856 1.240 0.000"

# ---------------- STYLE / GEOMETRY ----------------
W, H = 1910, 900
PLOT_W, PLOT_H = 1866, 887
MAIN_BOTTOM_PX, MACD_TOP_PX, MACD_BOTTOM_PX = 773, 776, 886
X_RANGE = [0, 933]
Y_RANGE = [1718.85, 1816.45]
M_RANGE = [-12.68, 10.56]
PXB = PLOT_W / (X_RANGE[1] - X_RANGE[0])
PPU = MAIN_BOTTOM_PX / (Y_RANGE[1] - Y_RANGE[0])
FONT = "Liberation Sans"
FS = 9.5

ORANGE = "#F5883A"
YELLOW = "#FFFF00"
arrow_color = [ORANGE, ORANGE, ORANGE, ORANGE, YELLOW, YELLOW, YELLOW, ORANGE]
arrow_geom = [  # tail width, shaft end width, head width, head length (px)
    (1.5, 9, 24, 26), (1.5, 10, 24, 24), (1.5, 9, 24, 26), (2, 11, 26, 26),
    (2, 7, 18, 22), (2, 10, 16, 14), (3, 9, 22, 24), (8, 10, 24, 28)]


def to_px(b, p):
    return b * PXB, (Y_RANGE[1] - p) * PPU


def from_px(X, Y):
    return X / PXB, Y_RANGE[1] - Y / PPU


def arrow_path(b0, p0, b1, p1, w0, w1, wh, hl):
    X0, Y0 = to_px(b0, p0)
    X1, Y1 = to_px(b1, p1)
    dx, dy = X1 - X0, Y1 - Y0
    L = math.hypot(dx, dy)
    ux, uy = dx / L, dy / L
    nx, ny = -uy, ux
    bx, by = X1 - ux * hl, Y1 - uy * hl
    pts = [(X0 + nx * w0 / 2, Y0 + ny * w0 / 2), (bx + nx * w1 / 2, by + ny * w1 / 2),
           (bx + nx * wh / 2, by + ny * wh / 2), (X1, Y1),
           (bx - nx * wh / 2, by - ny * wh / 2), (bx - nx * w1 / 2, by - ny * w1 / 2),
           (X0 - nx * w0 / 2, Y0 - ny * w0 / 2)]
    out = []
    for X, Y in pts:
        b, p = from_px(X, Y)
        out.append(f"{b:.3f},{p:.3f}")
    return "M " + " L ".join(out) + " Z"


def px2paper(px, py):
    return px / PLOT_W, (PLOT_H - py) / PLOT_H


fig = go.Figure()

# candles
xu, yu, xd, yd = [], [], [], []
for b, hi, lo, d in zip(candle_bar, candle_high, candle_low, candle_dir):
    if d == "u":
        xu += [b, b, None]
        yu += [lo, hi, None]
    else:
        xd += [b, b, None]
        yd += [lo, hi, None]
fig.add_trace(go.Scatter(x=xu, y=yu, mode="lines", line=dict(color="#00FF00", width=1.2),
                         hoverinfo="skip"))
fig.add_trace(go.Scatter(x=xd, y=yd, mode="lines", line=dict(color="#FF0000", width=1.2),
                         hoverinfo="skip"))

# bands
for bx, by in [(upper_bar, upper_val), (mid_bar, mid_val), (lower_bar, lower_val)]:
    fig.add_trace(go.Scatter(x=bx, y=by, mode="lines",
                             line=dict(color="white", width=2, shape="spline", smoothing=0.6),
                             hoverinfo="skip"))

# MACD
fig.add_trace(go.Bar(x=hist_bar, y=hist_val, yaxis="y2", width=2.4,
                     marker=dict(color=["#1E8E1E" if v >= 0 else "#EE0000" for v in hist_val],
                                 line=dict(width=0)), hoverinfo="skip"))
fig.add_trace(go.Scatter(x=signal_bar, y=signal_val, yaxis="y2", mode="lines",
                         line=dict(color="#FF2020", width=1.2, dash="3px,3px"), hoverinfo="skip"))
fig.add_trace(go.Scatter(x=macd_bar, y=macd_val, yaxis="y2", mode="lines",
                         line=dict(color="#34E4EC", width=1.3), hoverinfo="skip"))

shapes = []
# separators
for s in separator_bar:
    shapes.append(dict(type="line", xref="x", yref="paper", x0=s, x1=s, y0=0, y1=1,
                       line=dict(color="white", width=1, dash="3px,3px"), layer="below"))
# zone
shapes.append(dict(type="rect", xref="x", yref="y", x0=zone_bar[0], x1=zone_bar[1],
                   y0=zone_price[0], y1=zone_price[1], fillcolor="#0000FF",
                   line=dict(width=0), layer="below"))
for s in separator_bar:
    if zone_bar[0] < s < zone_bar[1]:
        shapes.append(dict(type="line", xref="x", yref="y", x0=s, x1=s,
                           y0=zone_price[0], y1=zone_price[1],
                           line=dict(color=YELLOW, width=1, dash="3px,3px"), layer="below"))
# levels
for lv in level_yellow:
    shapes.append(dict(type="line", xref="paper", yref="y", x0=0, x1=1, y0=lv, y1=lv,
                       line=dict(color=YELLOW, width=1), layer="below"))
for lv in level_gray:
    shapes.append(dict(type="line", xref="paper", yref="y", x0=0, x1=1, y0=lv, y1=lv,
                       line=dict(color="#8C98A8", width=1), layer="below"))
# panel borders
for py in (MAIN_BOTTOM_PX, MACD_TOP_PX):
    yp = (PLOT_H - py) / PLOT_H
    shapes.append(dict(type="line", xref="paper", yref="paper", x0=0, x1=1, y0=yp, y1=yp,
                       line=dict(color="white", width=1)))
# trendline
shapes.append(dict(type="line", xref="x", yref="y", x0=trend_bar[0], x1=trend_bar[1],
                   y0=trend_price[0], y1=trend_price[1],
                   line=dict(color="#C466DA", width=2)))
# arrows
for i in range(len(arrow_from_bar)):
    w0, w1, wh, hl = arrow_geom[i]
    shapes.append(dict(type="path", xref="x", yref="y",
                       path=arrow_path(arrow_from_bar[i], arrow_from_price[i],
                                       arrow_to_bar[i], arrow_to_price[i], w0, w1, wh, hl),
                       fillcolor=arrow_color[i], line=dict(width=0)))
# ellipses
for eb, ep in zip(ellipse_bar, ellipse_price):
    shapes.append(dict(type="circle", xref="x", yref="y", x0=eb[0], x1=eb[1], y0=ep[0],
                       y1=ep[1], line=dict(color="#22C8D8", width=3)))


# logo diamonds
def diamond(cx, cy, r, color, top_only=False):
    pts = [(cx, cy - r), (cx + r, cy), (cx, cy + r), (cx - r, cy)]
    if top_only:
        pts = [(cx, cy - r), (cx + r, cy), (cx - r, cy)]
    s = []
    for X, Y in pts:
        xp, yp = px2paper(X, Y)
        s.append(f"{xp:.5f},{yp:.5f}")
    return dict(type="path", xref="paper", yref="paper", path="M " + " L ".join(s) + " Z",
                fillcolor=color, line=dict(width=0))


LCX, LCY = 1768.5, 872
shapes.append(diamond(LCX, LCY, 23, "#C9A21C"))
shapes.append(diamond(LCX, LCY, 23, "#D9D9D9", top_only=True))
shapes.append(diamond(LCX, LCY, 15, "#2E2A14"))
shapes.append(diamond(LCX, LCY, 8, "#8DC63F"))
shapes.append(diamond(LCX, LCY, 4.5, "#1E1E10"))

annotations = []
# price tags
for lv in level_yellow + level_gray:
    bg = YELLOW if lv in level_yellow else "white"
    annotations.append(dict(xref="paper", yref="y", x=1, y=lv, xanchor="left", yanchor="middle",
                            xshift=1, text=f"{lv:.2f}", showarrow=False, bgcolor=bg,
                            width=41, height=10, borderpad=0, align="center",
                            font=dict(family=FONT, size=FS, color="black")))
# MACD label
xp, yp = px2paper(3, 783)
annotations.append(dict(xref="paper", yref="paper", x=xp, y=yp, xanchor="left", yanchor="middle",
                        text=macd_label, showarrow=False,
                        font=dict(family=FONT, size=FS, color="#D0D0D0")))
# logo text
xp, yp = px2paper(1802, 863)
annotations.append(dict(xref="paper", yref="paper", x=xp, y=yp, xanchor="left", yanchor="middle",
                        text="<b>SiNO SOUND</b>", showarrow=False,
                        font=dict(family=FONT, size=16.5, color="white")))
for ch, cx in zip(["漢", "聲", "集", "團"], [1811, 1837, 1864, 1891]):
    xp, yp = px2paper(cx, 881)
    annotations.append(dict(xref="paper", yref="paper", x=xp, y=yp, xanchor="center",
                            yanchor="middle", text=ch, showarrow=False,
                            font=dict(family="Noto Sans CJK TC", size=16, color="#9A9A9A")))

main_dom = [(PLOT_H - MAIN_BOTTOM_PX) / PLOT_H, 1]
macd_dom = [(PLOT_H - MACD_BOTTOM_PX) / PLOT_H, (PLOT_H - MACD_TOP_PX) / PLOT_H]

fig.update_layout(
    width=W, height=H, margin=dict(l=0, r=W - PLOT_W, t=0, b=H - PLOT_H, pad=0,
                                   autoexpand=False),
    paper_bgcolor="black", plot_bgcolor="black", showlegend=False, bargap=0,
    shapes=shapes, annotations=annotations, hovermode=False,
    xaxis=dict(range=X_RANGE, anchor="y2", showgrid=False, zeroline=False, showline=True,
               linecolor="white", linewidth=1, ticks="outside", ticklen=3, tickcolor="white",
               tickvals=time_tick_bar, ticktext=time_tick_text, ticklabelposition="outside right",
               tickangle=0, automargin=False,
               tickfont=dict(family=FONT, size=FS, color="white"), fixedrange=True),
    yaxis=dict(domain=main_dom, range=Y_RANGE, side="right", anchor="x", showgrid=False,
               zeroline=False, showline=True, linecolor="white", linewidth=1, ticks="outside",
               ticklen=4, tickcolor="white", tickvals=price_ticks, automargin=False,
               ticktext=[f"{v:.2f}" for v in price_ticks],
               tickfont=dict(family=FONT, size=FS, color="white"), fixedrange=True),
    yaxis2=dict(domain=macd_dom, range=M_RANGE, side="right", anchor="x", showgrid=False,
                zeroline=False, showline=True, linecolor="white", linewidth=1, ticks="outside",
                ticklen=4, tickcolor="white", tickvals=macd_ticks, ticktext=macd_tick_text,
                automargin=False,
                tickfont=dict(family=FONT, size=FS, color="white"), fixedrange=True),
)

fig.write_html("out.html", config={"displayModeBar": False},
               post_script="document.body.style.margin='0';document.body.style.overflow='hidden';")
